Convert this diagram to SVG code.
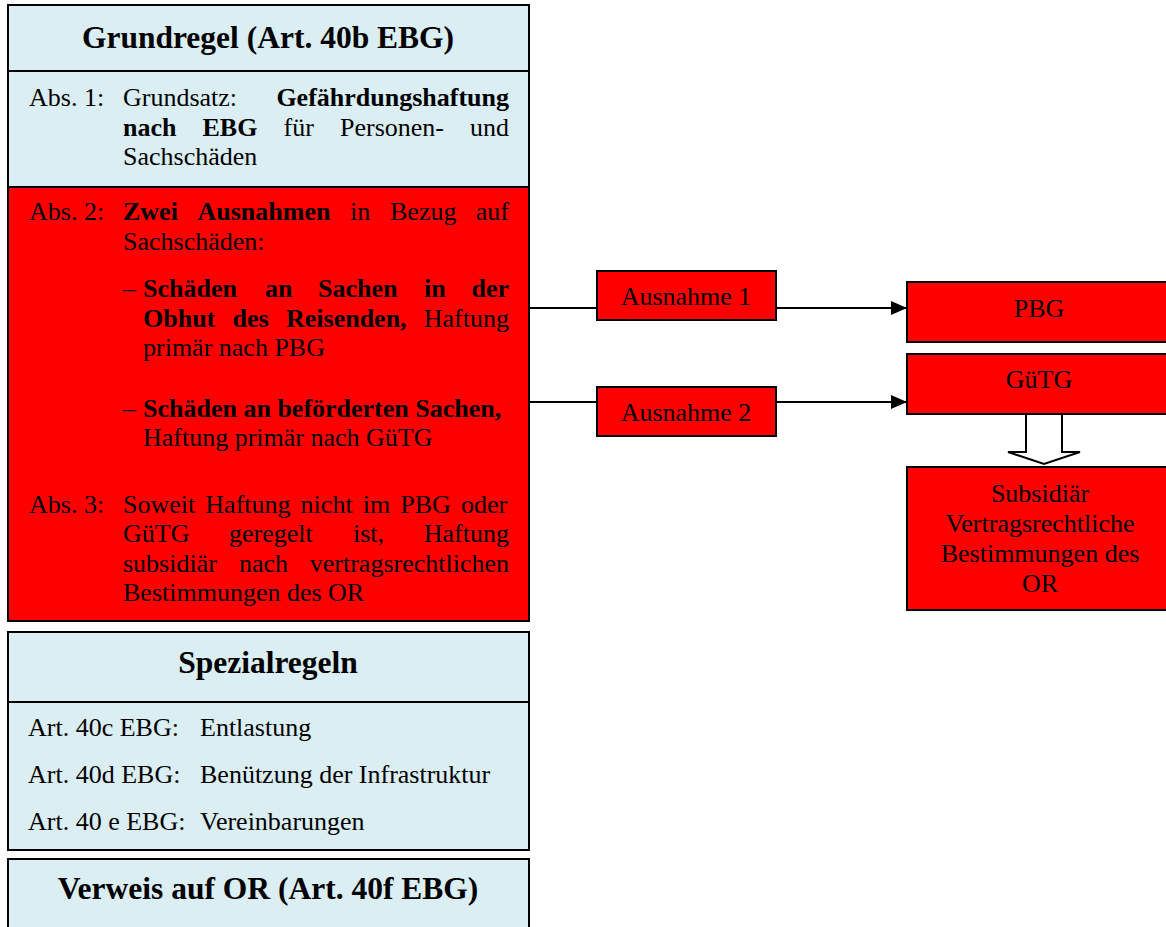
<svg xmlns="http://www.w3.org/2000/svg" width="1166" height="927" viewBox="0 0 1166 927">
<style>
.t{font-family:"Liberation Serif","Times New Roman",serif;font-size:26px;fill:#000}
.b{font-weight:bold}
.h{font-family:"Liberation Serif","Times New Roman",serif;font-size:31.5px;font-weight:bold;text-anchor:middle;fill:#000}
.c{text-anchor:middle}
.e{text-anchor:end}
.blue{fill:#DAEEF3;stroke:#000;stroke-width:2}
.red{fill:#FF0000;stroke:#000;stroke-width:2}
.ln{stroke:#000;stroke-width:2;fill:none}
</style>
<defs>
<marker id="ah" markerUnits="userSpaceOnUse" markerWidth="16" markerHeight="14" refX="16" refY="7" orient="auto">
<path d="M0,0 L16,7 L0,14 z" fill="#000"/>
</marker>
</defs>
<rect width="1166" height="927" fill="#fff"/>

<g id="grundregel">
<rect class="blue" x="8" y="5" width="521" height="66"/>
<text class="h" x="268" y="48">Grundregel (Art. 40b EBG)</text>
</g>

<g id="abs1">
<rect class="blue" x="8" y="71" width="521" height="116"/>
<text class="t" x="29" y="106">Abs. 1:</text>
<text class="t" x="123" y="106">Grundsatz:</text>
<text class="t b e" x="509" y="106">Gefährdungshaftung</text>
<text class="t b" x="123" y="136">nach</text>
<text class="t b" x="202.5" y="136">EBG</text>
<text class="t" x="283.5" y="136">für</text>
<text class="t" x="340" y="136">Personen-</text>
<text class="t e" x="509" y="136">und</text>
<text class="t" x="123" y="165">Sachschäden</text>
</g>

<g id="abs2-3">
<rect class="red" x="8" y="187" width="521" height="434"/>
<text class="t" x="29" y="220">Abs. 2:</text>
<text class="t b" x="123" y="220">Zwei</text>
<text class="t b" x="197.5" y="220">Ausnahmen</text>
<text class="t" x="350" y="220">in</text>
<text class="t" x="390" y="220">Bezug</text>
<text class="t e" x="509" y="220">auf</text>
<text class="t" x="123" y="249.5">Sachschäden:</text>

<text class="t" x="123" y="297">–</text>
<text class="t b" x="143" y="297">Schäden</text>
<text class="t b" x="265" y="297">an</text>
<text class="t b" x="318" y="297">Sachen</text>
<text class="t b" x="424" y="297">in</text>
<text class="t b e" x="509" y="297">der</text>
<text class="t b" x="143" y="326.5">Obhut</text>
<text class="t b" x="232.5" y="326.5">des</text>
<text class="t b" x="286" y="326.5">Reisenden,</text>
<text class="t e" x="509" y="326.5">Haftung</text>
<text class="t" x="143" y="356">primär nach PBG</text>

<text class="t" x="123" y="417">–</text>
<text class="t b" x="143" y="417">Schäden an beförderten Sachen,</text>
<text class="t" x="143" y="446">Haftung primär nach GüTG</text>

<text class="t" x="29" y="512.5">Abs. 3:</text>
<text class="t" x="123" y="512.5" word-spacing="3.6">Soweit Haftung nicht im PBG oder</text>
<text class="t" x="123" y="542">GüTG</text>
<text class="t" x="229" y="542">geregelt</text>
<text class="t" x="353" y="542">ist,</text>
<text class="t e" x="509" y="542">Haftung</text>
<text class="t" x="123" y="571.5">subsidiär</text>
<text class="t" x="239" y="571.5">nach</text>
<text class="t e" x="509" y="571.5">vertragsrechtlichen</text>
<text class="t" x="123" y="601">Bestimmungen des OR</text>
</g>

<g id="spezialregeln">
<rect class="blue" x="8" y="632" width="521" height="70"/>
<rect class="blue" x="8" y="702" width="521" height="148"/>
<text class="h" x="268" y="673">Spezialregeln</text>
<text class="t" x="28" y="736">Art. 40c EBG:</text>
<text class="t" x="200" y="736">Entlastung</text>
<text class="t" x="28" y="783">Art. 40d EBG:</text>
<text class="t" x="200" y="783">Benützung der Infrastruktur</text>
<text class="t" x="28" y="830">Art. 40 e EBG:</text>
<text class="t" x="200" y="830">Vereinbarungen</text>
</g>

<g id="verweis">
<rect class="blue" x="8" y="859" width="521" height="80"/>
<text class="h" x="268" y="899">Verweis auf OR (Art. 40f EBG)</text>
</g>

<g id="connectors">
<line class="ln" x1="529" y1="308" x2="597" y2="308"/>
<line class="ln" x1="776" y1="308" x2="907" y2="308" marker-end="url(#ah)"/>
<line class="ln" x1="529" y1="402" x2="597" y2="402"/>
<line class="ln" x1="776" y1="402" x2="907" y2="402" marker-end="url(#ah)"/>
<polygon points="1026,414 1026,452 1008,452 1044,464 1080,452 1062,452 1062,414" fill="#fff" stroke="#000" stroke-width="2"/>
</g>

<g id="ausnahme1">
<rect class="red" x="597" y="271" width="179" height="49"/>
<text class="t c" x="686" y="305">Ausnahme 1</text>
</g>

<g id="ausnahme2">
<rect class="red" x="597" y="387" width="179" height="49"/>
<text class="t c" x="686" y="421">Ausnahme 2</text>
</g>

<g id="pbg">
<rect class="red" x="907" y="282" width="270" height="60"/>
<text class="t c" x="1039" y="317">PBG</text>
</g>

<g id="guetg">
<rect class="red" x="907" y="354" width="270" height="60"/>
<text class="t c" x="1039" y="388">GüTG</text>
</g>

<g id="subsidiaer">
<rect class="red" x="907" y="467" width="270" height="143"/>
<text class="t c" x="1040" y="502">Subsidiär</text>
<text class="t c" x="1040" y="531.5">Vertragsrechtliche</text>
<text class="t c" x="1040" y="562">Bestimmungen des</text>
<text class="t c" x="1040" y="592">OR</text>
</g>
</svg>
